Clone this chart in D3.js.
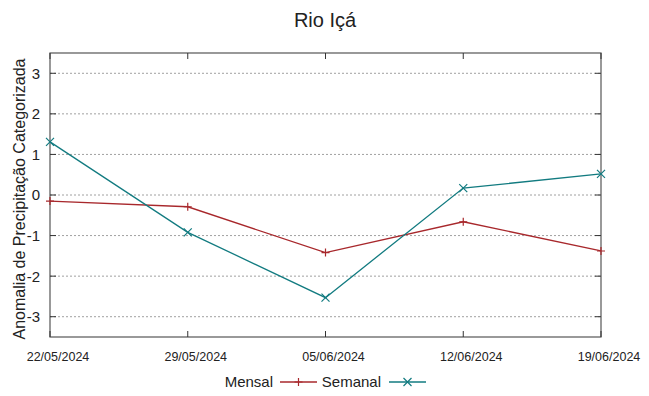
<!DOCTYPE html>
<html>
<head>
<meta charset="utf-8">
<script src="https://cdn.jsdelivr.net/npm/d3@7"></script>
<style>
  body { margin: 0; background: #fff; }
  text { font-family: "Liberation Sans", Arial, sans-serif; fill: #222; }
</style>
</head>
<body>
<div id="chart"></div>
<script>
// data
var dates = ["22/05/2024", "29/05/2024", "05/06/2024", "12/06/2024", "19/06/2024"];
var mensal = [-0.15, -0.29, -1.42, -0.66, -1.38];
var semanal = [1.31, -0.92, -2.53, 0.17, 0.52];
var yTicks = [-3, -2, -1, 0, 1, 2, 3];

var W = 649, H = 396;
var margin = {top: 53, right: 48, bottom: 59, left: 50},
    width = W - margin.left - margin.right,
    height = H - margin.top - margin.bottom;

var svg = d3.select("#chart").append("svg")
    .attr("width", W)
    .attr("height", H);

var g = svg.append("g")
    .attr("transform", "translate(" + margin.left + "," + margin.top + ")");

var x = d3.scalePoint().domain(dates).range([0, width]);
var y = d3.scaleLinear().domain([-3.5, 3.5]).range([height, 0]);

// grid (horizontal only, dotted)
g.selectAll(".grid").data(yTicks).enter().append("line")
    .attr("x1", 0).attr("x2", width)
    .attr("y1", function(d) { return y(d); })
    .attr("y2", function(d) { return y(d); })
    .attr("stroke", "#a0a0a0")
    .attr("stroke-width", 1)
    .attr("stroke-dasharray", "2,2");

// frame
g.append("rect")
    .attr("width", width).attr("height", height)
    .attr("fill", "none")
    .attr("stroke", "#555")
    .attr("stroke-width", 1.2);

// y ticks on both sides
yTicks.forEach(function(d) {
  g.append("line").attr("x1", 0).attr("x2", 6)
    .attr("y1", y(d)).attr("y2", y(d)).attr("stroke", "#333");
  g.append("line").attr("x1", width).attr("x2", width - 6)
    .attr("y1", y(d)).attr("y2", y(d)).attr("stroke", "#333");
  g.append("text")
    .attr("x", -10).attr("y", y(d))
    .attr("dy", "0.36em")
    .attr("text-anchor", "end")
    .style("font-size", "15px")
    .text(d);
});

// x ticks bottom and top, labels shifted a bit right
dates.forEach(function(d) {
  g.append("line").attr("x1", x(d)).attr("x2", x(d))
    .attr("y1", height).attr("y2", height - 6).attr("stroke", "#333");
  g.append("line").attr("x1", x(d)).attr("x2", x(d))
    .attr("y1", 0).attr("y2", 6).attr("stroke", "#333");
  g.append("text")
    .attr("x", x(d) + 8).attr("y", height + 24)
    .attr("text-anchor", "middle")
    .style("font-family", "'Liberation Sans Narrow', 'Liberation Sans', sans-serif")
    .style("font-size", "12.5px")
    .text(d);
});

// title
svg.append("text")
    .attr("x", 325).attr("y", 27)
    .attr("text-anchor", "middle")
    .style("font-size", "20px")
    .text("Rio Içá");

// y label
svg.append("text")
    .attr("transform", "translate(25,199) rotate(-90)")
    .attr("text-anchor", "middle")
    .style("font-size", "16px")
    .text("Anomalia de Precipitação Categorizada");

var line = d3.line()
    .x(function(d, i) { return x(dates[i]); })
    .y(function(d) { return y(d); });

var cRed = "#a8282c", cTeal = "#127b80";

g.append("path").datum(mensal)
    .attr("d", line).attr("fill", "none")
    .attr("stroke", cRed).attr("stroke-width", 1.3);
g.append("path").datum(semanal)
    .attr("d", line).attr("fill", "none")
    .attr("stroke", cTeal).attr("stroke-width", 1.3);

function plus(sel, cx, cy, c) {
  sel.append("path")
    .attr("d", "M" + (cx - 4) + "," + cy + "h8M" + cx + "," + (cy - 4) + "v8")
    .attr("stroke", c).attr("stroke-width", 1.2).attr("fill", "none");
}
function cross(sel, cx, cy, c) {
  sel.append("path")
    .attr("d", "M" + (cx - 4) + "," + (cy - 4) + "l8,8M" + (cx - 4) + "," + (cy + 4) + "l8,-8")
    .attr("stroke", c).attr("stroke-width", 1.2).attr("fill", "none");
}

mensal.forEach(function(v, i) { plus(g, x(dates[i]), y(v), cRed); });
semanal.forEach(function(v, i) { cross(g, x(dates[i]), y(v), cTeal); });

// legend
var ly = 382;
svg.append("text").attr("x", 273).attr("y", ly).attr("dy", "0.36em")
    .attr("text-anchor", "end").style("font-size", "15px").text("Mensal");
svg.append("line").attr("x1", 280).attr("x2", 317).attr("y1", ly).attr("y2", ly)
    .attr("stroke", cRed).attr("stroke-width", 1.3);
plus(svg, 298.5, ly, cRed);
svg.append("text").attr("x", 381).attr("y", ly).attr("dy", "0.36em")
    .attr("text-anchor", "end").style("font-size", "15px").text("Semanal");
svg.append("line").attr("x1", 389).attr("x2", 426).attr("y1", ly).attr("y2", ly)
    .attr("stroke", cTeal).attr("stroke-width", 1.3);
cross(svg, 407.5, ly, cTeal);
</script>
</body>
</html>
